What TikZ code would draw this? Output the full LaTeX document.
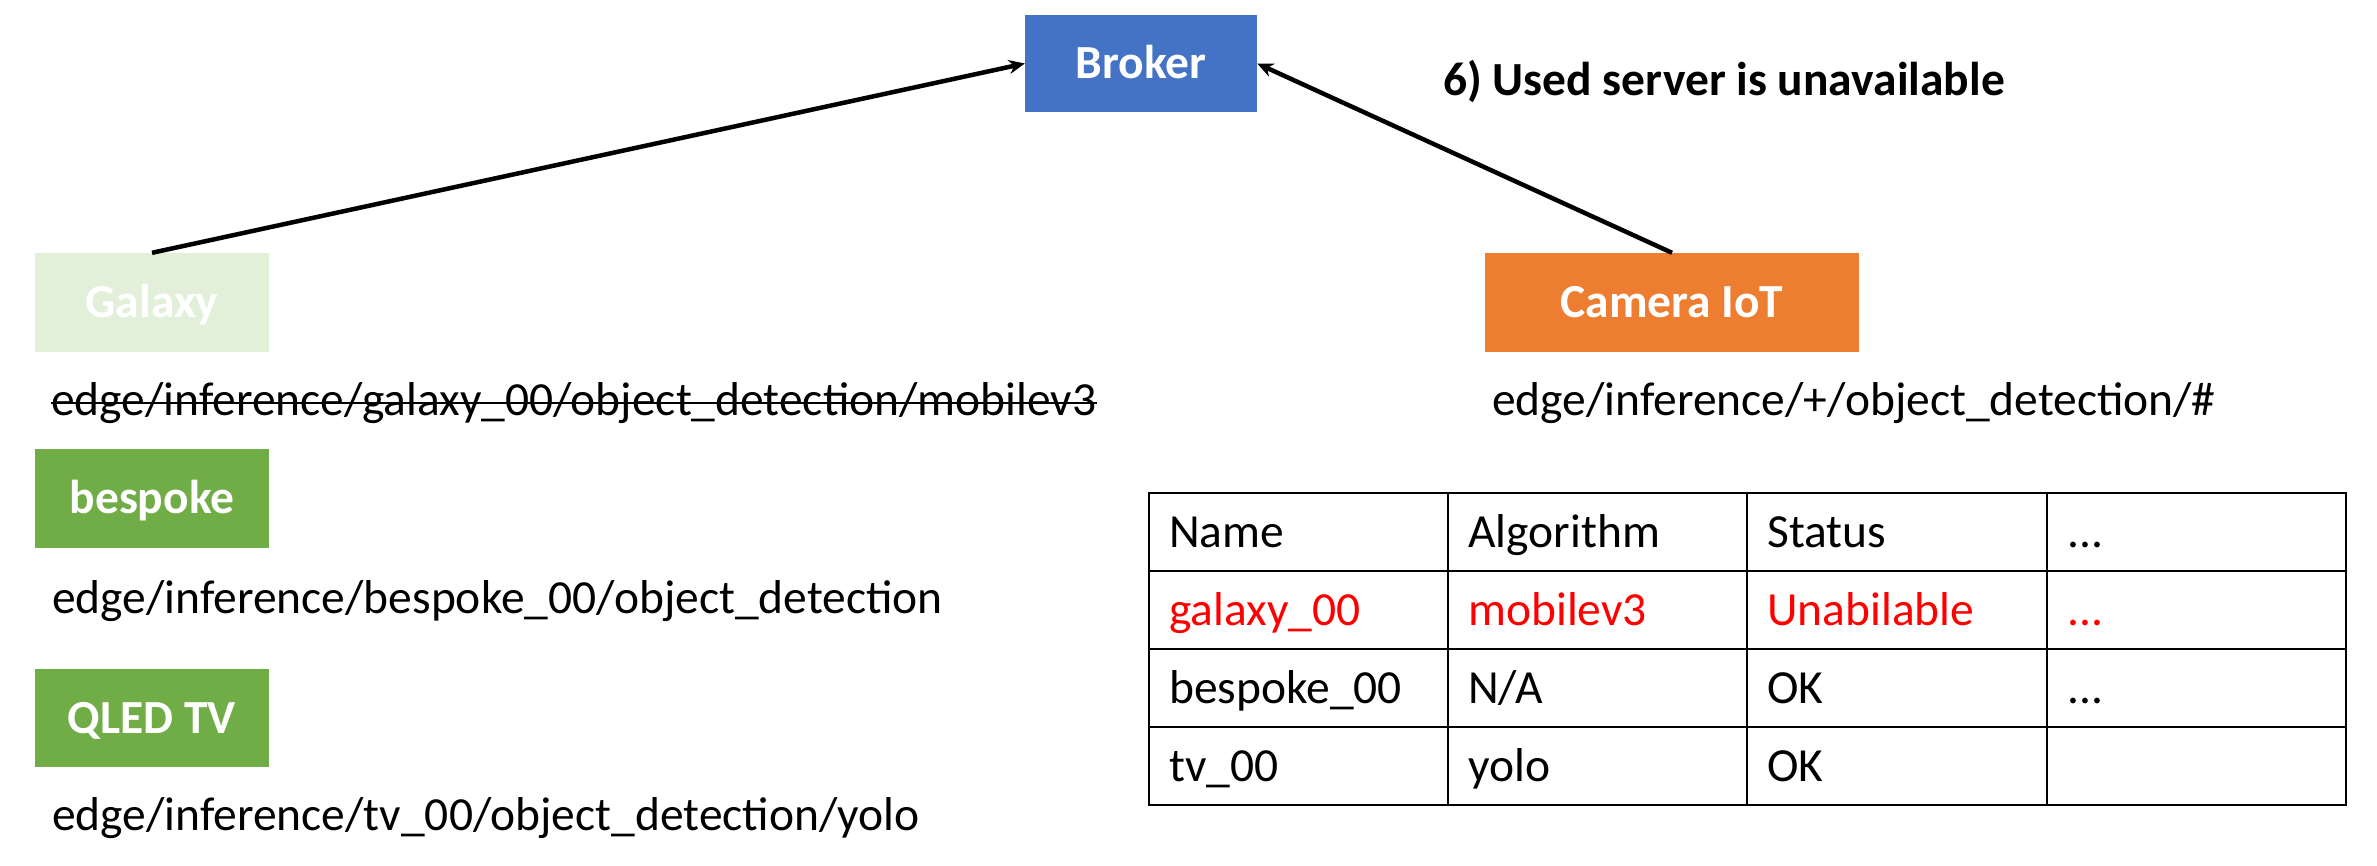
\documentclass[tikz,border=0pt]{standalone}
\usepackage{fontspec}
\setmainfont{Carlito}
\usetikzlibrary{arrows.meta}
\definecolor{brokerblue}{HTML}{4472C4}
\definecolor{devgreen}{HTML}{70AD47}
\definecolor{palegreen}{HTML}{E2F0D9}
\definecolor{camorange}{HTML}{ED7D31}
\definecolor{errred}{HTML}{FF0000}
\tikzset{
  x=1pt, y=-1pt,
  txt/.style={inner sep=0pt, anchor=base west, font=\fontsize{47.5}{57}\selectfont},
  devbox/.style={draw=none, inner sep=0pt, text=white, font=\fontsize{47.5}{57}\selectfont\bfseries,
     text height=30pt, text depth=0pt},
  link/.style={line width=4.5pt, -{Stealth[length=16pt,width=14pt]}},
  grid/.style={line width=2.5pt},
}
\begin{document}
\begin{tikzpicture}
\useasboundingbox (0,0) rectangle (2377,865);
% device boxes
\node[devbox, fill=brokerblue, minimum width=232pt, minimum height=97pt] (broker) at (1141,63.5) {Broker};
\node[devbox, fill=palegreen, minimum width=234pt, minimum height=99pt] (galaxy) at (152,302.5) {Galaxy};
\node[devbox, fill=camorange, minimum width=374pt, minimum height=99pt] (camera) at (1672,302.5) {Camera IoT};
\node[devbox, fill=devgreen, minimum width=234pt, minimum height=99pt] (bespoke) at (152,498.5) {bespoke};
\node[devbox, fill=devgreen, minimum width=234pt, minimum height=98pt] (qled) at (152,718) {QLED TV};
% connectors
\draw[link] (galaxy.north) -- (broker.west);
\draw[link] (camera.north) -- (broker.east);
% label
\node[txt, font=\fontsize{47.5}{57}\selectfont\bfseries] (msg) at (1443,95) {6) Used server is unavailable};
% topics
\node[txt] (gtopic) at (51,415) {edge/inference/galaxy\_00/object\_detection/mobilev3};
\draw[line width=2.5pt] ([yshift=12pt]gtopic.base west) -- ([yshift=12pt]gtopic.base east);
\node[txt] (ctopic) at (1492,415) {edge/inference/+/object\_detection/\#};
\node[txt] (btopic) at (52,613) {edge/inference/bespoke\_00/object\_detection};
\node[txt] (ttopic) at (52,830) {edge/inference/tv\_00/object\_detection/yolo};
% table
\coordinate (tl) at (1149,493);
\coordinate (br) at (2346,805);
\draw[grid] (tl) rectangle (br);
\foreach \yy in {571,649,727} \draw[grid] (1149,\yy) -- (2346,\yy);
\foreach \xx in {1448,1747,2047} \draw[grid] (\xx,493) -- (\xx,805);
\node[txt] (h1) at (1169,547) {Name};
\node[txt] (h2) at (1468,547) {Algorithm};
\node[txt] (h3) at (1767,547) {Status};
\node[txt] (h4) at (2067,547) {...};
\node[txt, text=errred] (r11) at (1169,625) {galaxy\_00};
\node[txt, text=errred] (r12) at (1468,625) {mobilev3};
\node[txt, text=errred] (r13) at (1767,625) {Unabilable};
\node[txt, text=errred] (r14) at (2067,625) {...};
\node[txt] (r21) at (1169,703) {bespoke\_00};
\node[txt] (r22) at (1468,703) {N/A};
\node[txt] (r23) at (1767,703) {OK};
\node[txt] (r24) at (2067,703) {...};
\node[txt] (r31) at (1169,781) {tv\_00};
\node[txt] (r32) at (1468,781) {yolo};
\node[txt] (r33) at (1767,781) {OK};
\end{tikzpicture}
\end{document}
